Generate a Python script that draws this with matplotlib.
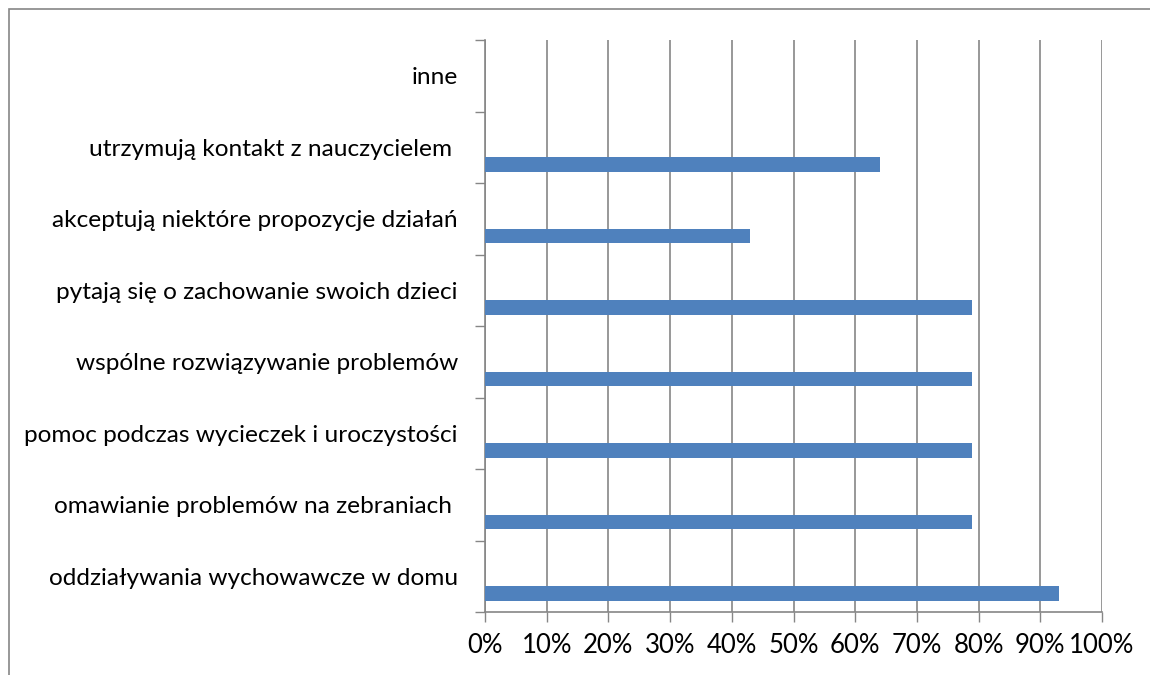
import matplotlib
matplotlib.use("Agg")
import matplotlib.pyplot as plt
from matplotlib.patches import Rectangle
from matplotlib.ticker import FixedLocator, PercentFormatter

# -----------------------------
# Data (bottom -> top)
# -----------------------------
categories = [
    "oddziaływania wychowawcze w domu",
    "omawianie problemów na zebraniach ",
    "pomoc podczas wycieczek i uroczystości",
    "wspólne rozwiązywanie problemów",
    "pytają się o zachowanie swoich dzieci",
    "akceptują niektóre propozycje działań",
    "utrzymują kontakt z nauczycielem ",
    "inne",
]
values = [0.93, 0.79, 0.79, 0.79, 0.79, 0.43, 0.64, 0.0]

bar_color = "#4F81BD"
grid_color = "#868686"

plt.rcParams['font.family'] = ['Lato', 'DejaVu Sans']

fig = plt.figure(figsize=(11.5, 6.75), dpi=100)

# outer chart frame (runs off the right/bottom edge)
fig.patches.append(Rectangle((9 / 1150, -0.1), 1.2, 1 - 9 / 675 + 0.1,
                             transform=fig.transFigure, fill=False,
                             edgecolor=grid_color, linewidth=1.2))

ax = fig.add_axes([485 / 1150, 1 - 612 / 675, (1102 - 485) / 1150, (612 - 40) / 675])

pos = list(range(len(categories)))
ax.barh([p - 0.24 for p in pos], values, height=0.2, color=bar_color, zorder=3)

ax.set_xlim(0, 1)
ax.set_ylim(-0.5, len(categories) - 0.5)

# x axis
ax.set_xticks([i / 10 for i in range(11)])
ax.xaxis.set_major_formatter(PercentFormatter(1.0, decimals=0))
ax.tick_params(axis="x", direction="out", length=7, width=1, color=grid_color,
               labelsize=18.5, pad=8)
ax.grid(axis="x", color=grid_color, linewidth=1.2, zorder=0)

# y axis: labels centred, ticks at category boundaries
ax.set_yticks(pos)
ax.set_yticklabels(categories)
ax.yaxis.set_minor_locator(FixedLocator([p - 0.5 for p in pos] + [len(pos) - 0.5]))
ax.tick_params(axis="y", which="major", length=0, labelsize=17.6, pad=19.5)
ax.tick_params(axis="y", which="minor", direction="out", length=7, width=1, color=grid_color)

for side in ["top", "right"]:
    ax.spines[side].set_visible(False)
for side in ["left", "bottom"]:
    ax.spines[side].set_color(grid_color)
    ax.spines[side].set_linewidth(1.2)

fig.savefig("out.png", dpi=100)
